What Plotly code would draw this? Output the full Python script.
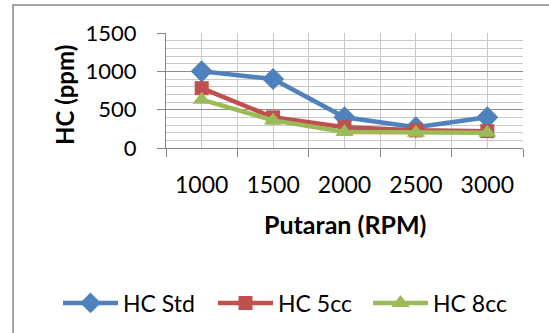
import plotly.graph_objects as go

rpm = [1000, 1500, 2000, 2500, 3000]
rpm_labels = ["1000", "1500", "2000", "2500", "3000"]
hc_std = [1000, 900, 400, 270, 400]
hc_5cc = [780, 400, 270, 230, 220]
hc_8cc = [630, 360, 210, 200, 200]
series_names = ["HC Std", "HC 5cc", "HC 8cc"]

FONT = "Lato"
W, H = 549, 333
L, R, T, B = 166, 26, 33, 185
PW, PH = W - L - R, H - T - B

def px_x(p):
    return (p - L) / PW

def px_y(p):
    return (H - B - p) / PH

fig = go.Figure()
specs = [
    (hc_std, "#4F81BD", "diamond", 17),
    (hc_5cc, "#C0504D", "square", 14),
    (hc_8cc, "#9BBB59", "triangle-up", 16),
]
legend_ids = ["legend", "legend2", "legend3"]
for name, lid, (vals, col, sym, sz) in zip(series_names, legend_ids, specs):
    fig.add_trace(go.Scatter(
        x=rpm, y=vals, name=name, mode="lines+markers", legend=lid,
        line=dict(color=col, width=4.5),
        marker=dict(symbol=sym, size=sz, color=col, line=dict(width=0)),
    ))

bounds = [750, 1250, 1750, 2250, 2750, 3250]
fig.update_xaxes(
    range=[750, 3250], tickvals=rpm, ticktext=rpm_labels, ticks="",
    showgrid=True, gridcolor="#C8C8C8", gridwidth=1,
    showline=True, linecolor="#868686", linewidth=1.2,
    tickfont=dict(family=FONT, size=23, color="#000"),
    ticklabelstandoff=16,
    minor=dict(tickvals=bounds, ticks="outside", ticklen=8, tickcolor="#868686",
               showgrid=True, gridcolor="#C8C8C8", gridwidth=1),
    zeroline=False, fixedrange=True, automargin=False,
)
fig.update_yaxes(
    range=[0, 1500], dtick=500, ticks="outside", ticklen=8, tickcolor="#868686",
    showgrid=True, gridcolor="#8C8C8C", gridwidth=1.2,
    showline=True, linecolor="#868686", linewidth=1.2,
    tickfont=dict(family=FONT, size=22, color="#000"),
    ticklabelstandoff=16,
    minor=dict(dtick=100, showgrid=True, gridcolor="#C8C8C8", gridwidth=1),
    zeroline=False, fixedrange=True, automargin=False,
)

fig.add_annotation(text="<b>HC (ppm)</b>", xref="paper", yref="paper",
                   x=px_x(64), y=px_y(95), textangle=-90, showarrow=False,
                   font=dict(family=FONT, size=24, color="#000"),
                   xanchor="center", yanchor="middle")
fig.add_annotation(text="<b>Putaran (RPM)</b>", xref="paper", yref="paper",
                   x=px_x(345), y=px_y(224), showarrow=False,
                   font=dict(family=FONT, size=25, color="#000"),
                   xanchor="center", yanchor="middle")

fig.add_shape(type="rect", xref="paper", yref="paper",
              x0=px_x(13), y0=-3, x1=3, y1=px_y(5),
              line=dict(color="#868686", width=1.5), fillcolor="rgba(0,0,0,0)", layer="below")

leg_common = dict(orientation="h", xref="container", yref="container",
                  xanchor="left", yanchor="middle",
                  font=dict(family=FONT, size=23, color="#000"), itemwidth=55,
                  bgcolor="rgba(0,0,0,0)")
leg_x = [58, 213, 368]
fig.update_layout(
    width=W, height=H, margin=dict(l=L, r=R, t=T, b=B, autoexpand=False),
    paper_bgcolor="white", plot_bgcolor="white",
    showlegend=True,
    legend=dict(x=leg_x[0] / W, y=(H - 303) / H, **leg_common),
    legend2=dict(x=leg_x[1] / W, y=(H - 303) / H, **leg_common),
    legend3=dict(x=leg_x[2] / W, y=(H - 303) / H, **leg_common),
    font=dict(family=FONT),
)
fig.write_html("out.html")
